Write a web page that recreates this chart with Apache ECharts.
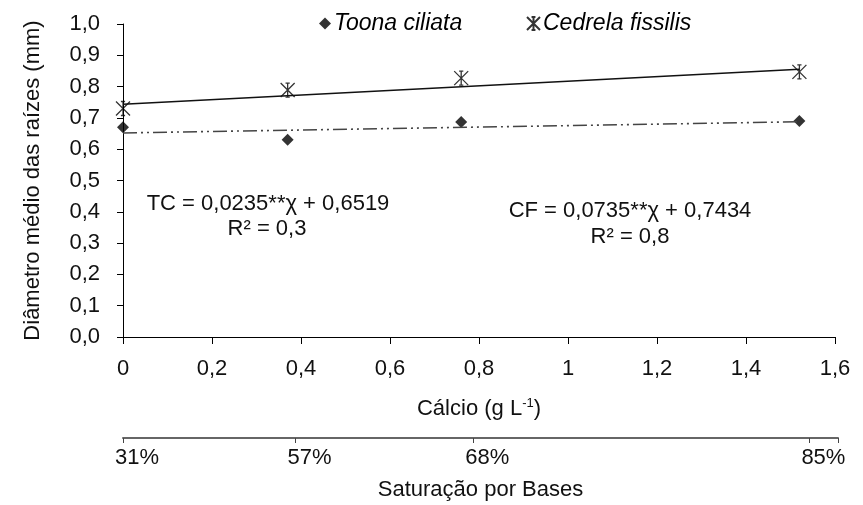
<!DOCTYPE html>
<html>
<head>
<meta charset="utf-8">
<script src="https://cdn.jsdelivr.net/npm/echarts@6/dist/echarts.min.js"></script>
<style>
  html, body { margin: 0; padding: 0; background: #fff; }
  #chart { width: 863px; height: 505px; }
</style>
</head>
<body>
<div id="chart"></div>
<script>
// Calcium doses (g L-1) and mean root diameter (mm)
const calcio = [0, 0.37, 0.76, 1.52];
const toonaCiliata = [0.67, 0.63, 0.687, 0.69];
const cedrelaFissilis = [0.73, 0.789, 0.827, 0.847];

// Linear fits: [slope, intercept]
const fitTC = [0.0235, 0.6519];
const fitCF = [0.0735, 0.7434];

// Base saturation scale, placed along the calcium axis
const satTicks = [0, 0.386, 0.784, 1.536];
const satLabels = ['31%', '57%', '68%', '85%'];

const yTicks = { min: 0, max: 1, interval: 0.1 };
const xTicks = { min: 0, max: 1.6, interval: 0.2 };

const FONT = '"Liberation Sans", Arial, sans-serif';
const FS = 22;

const comma = v => String(Number(v.toFixed(2))).replace('.', ',');
const fitLine = (c) => [calcio[0], calcio[calcio.length - 1]].map(x => [x, c[0] * x + c[1]]);

const STAR = 'path://M0,0L10,10M10,0L0,10M5,0L5,10M3.5,0L6.5,0M3.5,10L6.5,10';

const legendText = { fontFamily: FONT, fontSize: 23, fontStyle: 'italic', color: '#000', padding: [0, 0, 0, -2] };

const chart = echarts.init(document.getElementById('chart'));
chart.setOption({
  animation: false,
  backgroundColor: '#fff',
  textStyle: { fontFamily: FONT },
  legend: [
    {
      data: [{ name: 'Toona ciliata', icon: 'diamond' }],
      left: 314, top: 7, itemWidth: 12, itemHeight: 12, textStyle: legendText
    },
    {
      data: [{ name: 'Cedrela fissilis', icon: STAR }],
      left: 521, top: 7, itemWidth: 13, itemHeight: 13, textStyle: legendText
    }
  ],
  grid: [
    { left: 123, right: 28, top: 24, height: 313 },
    { left: 123, right: 25, top: 428, height: 10 }
  ],
  xAxis: [
    {
      gridIndex: 0, type: 'value',
      min: xTicks.min, max: xTicks.max, interval: xTicks.interval,
      name: 'Cálcio (g L{sup|-1})',
      nameLocation: 'middle', nameGap: 60,
      nameTextStyle: {
        fontFamily: FONT, fontSize: FS, color: '#111',
        rich: { sup: { fontSize: 13, padding: [0, 0, 11, 0], color: '#111' } }
      },
      axisLine: { onZero: false, lineStyle: { color: '#000', width: 1 } },
      axisTick: { length: 7, lineStyle: { color: '#000' } },
      axisLabel: { fontFamily: FONT, fontSize: FS, color: '#111', margin: 21, formatter: comma },
      splitLine: { show: false }
    },
    {
      gridIndex: 1, type: 'value',
      min: xTicks.min, max: xTicks.max,
      name: 'Saturação por Bases',
      nameLocation: 'middle', nameGap: 41,
      nameTextStyle: { fontFamily: FONT, fontSize: FS, color: '#111' },
      axisLine: { lineStyle: { color: '#666', width: 2 } },
      axisTick: {
        customValues: satTicks.concat([xTicks.max]),
        length: 5, lineStyle: { color: '#444', width: 1 }
      },
      axisLabel: {
        customValues: satTicks,
        fontFamily: FONT, fontSize: FS, color: '#111', margin: 9,
        padding: [0, 0, 0, 28],
        formatter: (v) => satLabels[satTicks.indexOf(v)] ?? ''
      },
      splitLine: { show: false }
    }
  ],
  yAxis: [
    {
      gridIndex: 0, type: 'value',
      min: yTicks.min, max: yTicks.max, interval: yTicks.interval,
      name: 'Diâmetro médio das raízes (mm)',
      nameLocation: 'middle', nameGap: 79,
      nameTextStyle: { fontFamily: FONT, fontSize: FS, color: '#111' },
      axisLine: { show: true, lineStyle: { color: '#000', width: 1 } },
      axisTick: { show: true, length: 6, lineStyle: { color: '#000' } },
      axisLabel: { fontFamily: FONT, fontSize: FS, color: '#111', margin: 23, formatter: v => v.toFixed(1).replace('.', ',') },
      splitLine: { show: false }
    },
    { gridIndex: 1, type: 'value', show: false }
  ],
  series: [
    {
      name: 'TC fit', type: 'line', xAxisIndex: 0, yAxisIndex: 0,
      data: fitLine(fitTC), symbol: 'none', silent: true,
      lineStyle: { color: '#444', width: 1.6, type: [14, 4, 2, 4, 2, 4] }
    },
    {
      name: 'CF fit', type: 'line', xAxisIndex: 0, yAxisIndex: 0,
      data: fitLine(fitCF), symbol: 'none', silent: true,
      lineStyle: { color: '#111', width: 1.5 }
    },
    {
      name: 'Toona ciliata', type: 'scatter', xAxisIndex: 0, yAxisIndex: 0,
      data: calcio.map((x, i) => [x, toonaCiliata[i]]),
      symbol: 'diamond', symbolSize: 12,
      itemStyle: { color: '#000' }
    },
    {
      name: 'Cedrela fissilis', type: 'scatter', xAxisIndex: 0, yAxisIndex: 0,
      data: calcio.map((x, i) => [x, cedrelaFissilis[i]]),
      symbol: STAR, symbolSize: 14,
      itemStyle: { color: 'rgba(0,0,0,0)', borderColor: '#000', borderWidth: 1.3 }
    }
  ],
  graphic: [
    { type: 'text', x: 268, y: 204, style: { text: 'TC = 0,0235**χ + 0,6519', font: FS + 'px ' + FONT, fill: '#111', align: 'center', verticalAlign: 'middle' } },
    { type: 'text', x: 267, y: 229, style: { text: 'R² = 0,3', font: FS + 'px ' + FONT, fill: '#111', align: 'center', verticalAlign: 'middle' } },
    { type: 'text', x: 630, y: 211, style: { text: 'CF = 0,0735**χ + 0,7434', font: FS + 'px ' + FONT, fill: '#111', align: 'center', verticalAlign: 'middle' } },
    { type: 'text', x: 630, y: 237, style: { text: 'R² = 0,8', font: FS + 'px ' + FONT, fill: '#111', align: 'center', verticalAlign: 'middle' } }
  ]
});
</script>
</body>
</html>
